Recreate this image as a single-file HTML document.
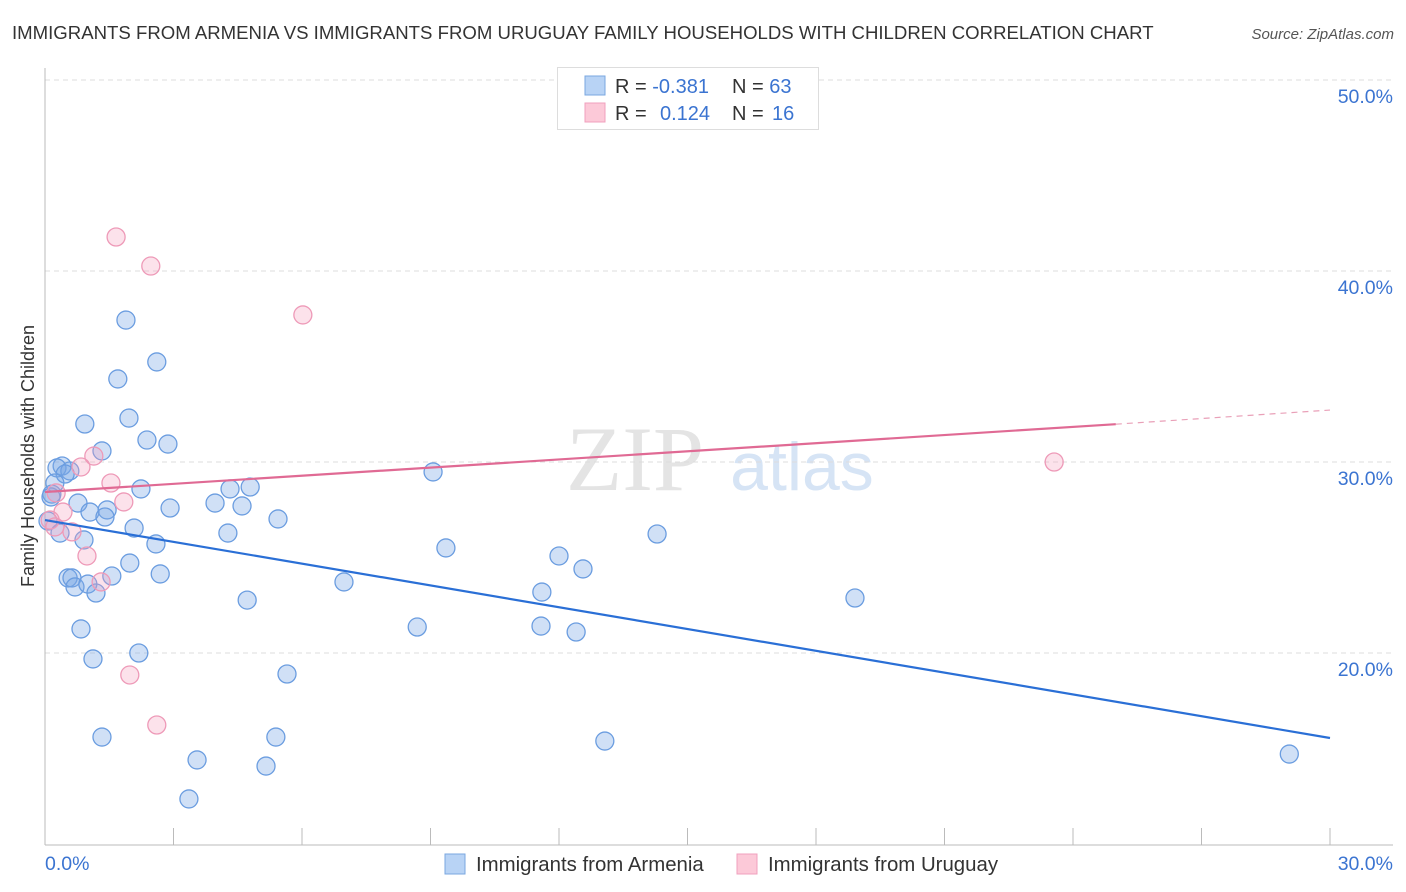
<!DOCTYPE html>
<html><head><meta charset="utf-8"><style>
body{margin:0;background:#fff;font-family:"Liberation Sans",sans-serif}
svg{display:block}
</style></head><body>
<svg id="chart" width="1406" height="892" xmlns="http://www.w3.org/2000/svg" font-family="Liberation Sans, sans-serif">
<text x="12" y="39" font-size="18.6" fill="#333">IMMIGRANTS FROM ARMENIA VS IMMIGRANTS FROM URUGUAY FAMILY HOUSEHOLDS WITH CHILDREN CORRELATION CHART</text>
<text x="1394" y="39" font-size="15" fill="#555" font-style="italic" text-anchor="end">Source: ZipAtlas.com</text>
<g>
<text x="635" y="490" font-size="92" fill="#e4e4e4" font-family="Liberation Serif, serif" text-anchor="middle">ZIP</text>
<text x="802" y="490" font-size="68" fill="#d6e4f5" text-anchor="middle">atlas</text>
</g>
<g id="grid"></g>
<g id="axes"></g>
<g id="points"></g>
<g id="lines"></g>
<text x="34" y="456" font-size="18" fill="#333" text-anchor="middle" transform="rotate(-90 34 456)">Family Households with Children</text>
<g>
<rect x="557.5" y="67.5" width="261" height="62" fill="#fff" stroke="#ddd"/>
<rect x="585" y="76" width="20" height="19" fill="#b8d3f5" stroke="#7aa7e0"/>
<rect x="585" y="103" width="20" height="19" fill="#fcc9d8" stroke="#f0a0be"/>
<text x="615" y="93" font-size="20" fill="#333">R = <tspan fill="#3b74d1">-0.381</tspan><tspan x="732">N = </tspan><tspan fill="#3b74d1">63</tspan></text>
<text x="615" y="120" font-size="20" fill="#333">R = <tspan x="660" fill="#3b74d1">0.124</tspan><tspan x="732">N = </tspan><tspan x="772" fill="#3b74d1">16</tspan></text>
</g>
<g>
<rect x="445" y="854" width="20" height="20" fill="#b8d3f5" stroke="#7aa7e0"/>
<text x="476" y="871" font-size="20.4" fill="#333">Immigrants from Armenia</text>
<rect x="737" y="854" width="20" height="20" fill="#fcc9d8" stroke="#f0a0be"/>
<text x="768" y="871" font-size="20.4" fill="#333">Immigrants from Uruguay</text>
</g>
</svg>
<script>
const blueX=[1.89,2.61,1.70,1.96,0.93,2.38,2.87,1.33,0.40,0.28,0.58,0.47,0.23,0.16,0.14,0.77,2.24,4.32,4.79,3.97,4.60,2.92,1.05,1.45,1.40,5.44,2.08,0.07,0.35,0.91,4.27,2.59,1.98,1.56,0.54,0.63,0.70,1.00,1.19,2.69,4.72,0.84,1.12,2.19,5.65,1.33,3.55,5.16,5.39,3.36,6.98,9.06,9.36,8.69,12.0,12.56,11.60,11.58,12.40,14.29,13.07,18.91,29.05];
const blueY=[37.43,35.24,34.35,32.30,31.99,31.15,30.94,30.58,29.79,29.69,29.53,29.37,28.90,28.32,28.17,27.85,28.59,28.59,28.69,27.85,27.70,27.59,27.38,27.49,27.12,27.02,26.54,26.91,26.28,25.92,26.28,25.71,24.71,24.03,23.93,23.93,23.46,23.61,23.14,24.14,22.77,21.26,19.69,20.0,18.90,15.60,14.40,14.08,15.60,12.36,23.72,29.48,25.50,21.36,25.08,24.40,23.19,21.41,21.10,26.23,15.39,22.88,14.71];
const pinkX=[1.66,2.47,6.02,1.14,0.84,1.54,0.26,1.84,0.42,0.12,0.23,0.63,0.98,1.31,1.98,2.61,23.56];
const pinkY=[41.78,40.26,37.70,30.31,29.74,28.90,28.38,27.91,27.38,26.96,26.60,26.34,25.08,23.72,18.85,16.23,30.0];
const blueTrend=[[0,26.96],[30,15.55]];
const pinkTrend=[[0,28.43],[25,31.98],[30,32.72]];
const yTicks=[20,30,40,50];
const xTickVals=[0,3,6,9,12,15,18,21,24,27,30];
const NS='http://www.w3.org/2000/svg';
const sx=v=>45+v*(1285/30);
const sy=v=>80+(50-v)*19.1;
function mk(t,a,p){const e=document.createElementNS(NS,t);for(const k in a)e.setAttribute(k,a[k]);document.getElementById(p).appendChild(e);return e;}
yTicks.forEach(v=>{
 const l=mk('line',{x1:45,x2:1393,y1:sy(v),y2:sy(v),stroke:'#ddd','stroke-dasharray':'5,4'},'grid');
 
 
 const t=mk('text',{x:1393,y:sy(v)+23,'font-size':19.5,fill:'#3b74d1','text-anchor':'end'},'axes');
 t.textContent=v.toFixed(1)+'%';
 
 
});
const ya=mk('line',{x1:45,x2:45,y1:68,y2:845,stroke:'#bbb'},'axes');


const xa=mk('line',{x1:45,x2:1393,y1:845,y2:845,stroke:'#bbb'},'axes');


xTickVals.forEach(v=>{
 const l=mk('line',{x1:sx(v),x2:sx(v),y1:828,y2:845,stroke:'#bbb'},'axes');
 
 
});
[[0,'start','0.0%'],[30,'end','30.0%']].forEach(([v,a,s])=>{
 const t=mk('text',{x:v==0?45:1393,y:870,'font-size':19.5,fill:'#3b74d1','text-anchor':a},'axes');
 t.textContent=s;
 
 
});
blueX.forEach((x,i)=>{
 const c=mk('circle',{cx:sx(x),cy:sy(blueY[i]),r:9,fill:'rgba(120,165,230,0.35)',stroke:'#6b9de0','stroke-width':1.3},'points');
 
 
});
pinkX.forEach((x,i)=>{
 const c=mk('circle',{cx:sx(x),cy:sy(pinkY[i]),r:9,fill:'rgba(245,160,190,0.3)',stroke:'#ee9ab8','stroke-width':1.3},'points');
 
 
});
const bl=mk('line',{x1:sx(blueTrend[0][0]),y1:sy(blueTrend[0][1]),x2:sx(blueTrend[1][0]),y2:sy(blueTrend[1][1]),stroke:'#2a6fd6','stroke-width':2.2},'lines');


const pl=mk('line',{x1:sx(pinkTrend[0][0]),y1:sy(pinkTrend[0][1]),x2:sx(pinkTrend[1][0]),y2:sy(pinkTrend[1][1]),stroke:'#e06a94','stroke-width':2.2},'lines');


const pd=mk('line',{x1:sx(pinkTrend[1][0]),y1:sy(pinkTrend[1][1]),x2:sx(pinkTrend[2][0]),y2:sy(pinkTrend[2][1]),stroke:'#e9a0b8','stroke-width':1.2,'stroke-dasharray':'6,5'},'lines');


</script>
</body></html>
